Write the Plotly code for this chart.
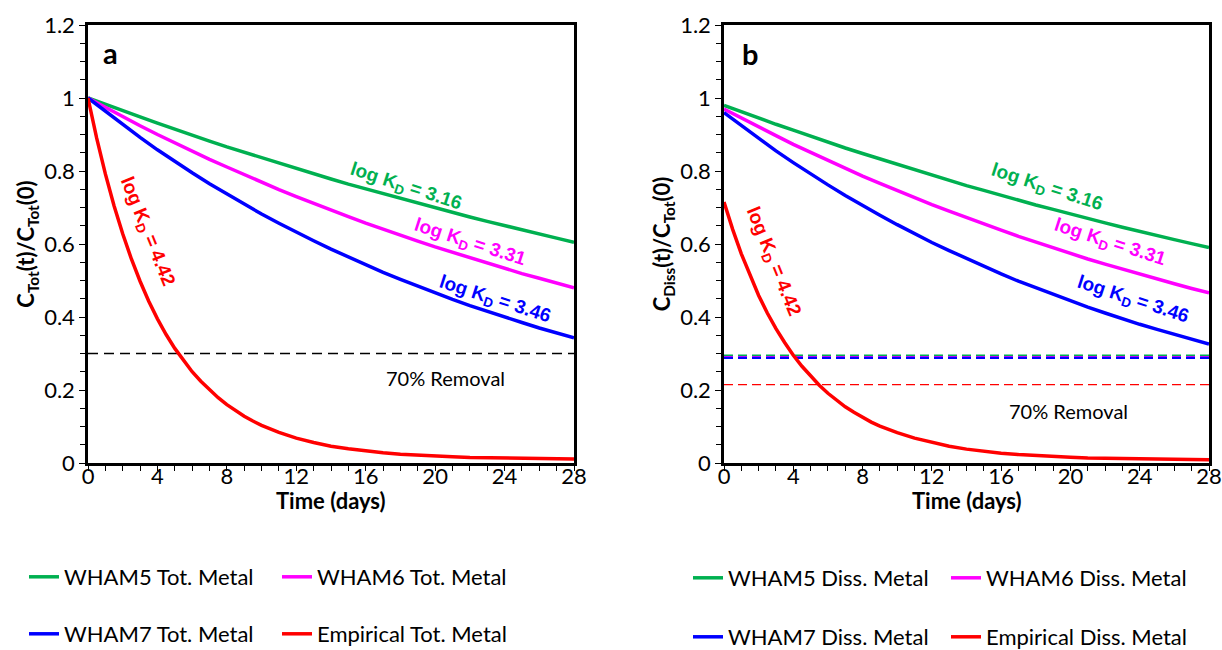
import plotly.graph_objects as go

# Time axis (days) for the WHAM model curves
days = list(range(29))

# Finer time grid for the fast-decaying empirical curves
emp_days = [0, 0.5, 1, 1.5, 2, 2.5, 3, 3.5, 4, 4.5, 5, 5.5, 6, 6.5, 7, 7.5, 8, 8.5,
            9, 9.5, 10, 11, 12, 13, 14, 15, 16, 17, 18, 19, 20, 21, 22, 23, 24,
            25, 26, 27, 28]

# Panel a: total metal, C_Tot(t)/C_Tot(0)
tot_wham5 = [1.000, 0.982, 0.965, 0.948, 0.931, 0.914, 0.898, 0.882, 0.866, 0.851,
             0.836, 0.821, 0.806, 0.792, 0.778, 0.764, 0.751, 0.737, 0.724, 0.711,
             0.699, 0.686, 0.674, 0.662, 0.650, 0.639, 0.628, 0.616, 0.605]
tot_wham6 = [1.000, 0.974, 0.949, 0.924, 0.900, 0.877, 0.854, 0.832, 0.811, 0.790,
             0.769, 0.749, 0.730, 0.711, 0.693, 0.675, 0.657, 0.640, 0.624, 0.608,
             0.592, 0.577, 0.562, 0.547, 0.533, 0.519, 0.506, 0.493, 0.480]
tot_wham7 = [1.000, 0.963, 0.927, 0.892, 0.858, 0.826, 0.795, 0.765, 0.737, 0.709,
             0.682, 0.657, 0.632, 0.609, 0.586, 0.564, 0.543, 0.522, 0.503, 0.484,
             0.466, 0.448, 0.431, 0.415, 0.400, 0.385, 0.370, 0.356, 0.343]
tot_emp = [1.000, 0.890, 0.792, 0.705, 0.628, 0.559, 0.498, 0.443, 0.395, 0.352,
           0.314, 0.280, 0.250, 0.224, 0.200, 0.179, 0.160, 0.143, 0.128, 0.115,
           0.103, 0.084, 0.068, 0.056, 0.046, 0.039, 0.033, 0.028, 0.024, 0.021,
           0.019, 0.017, 0.015, 0.014, 0.013, 0.012, 0.012, 0.011, 0.011]

# Panel b: dissolved metal, C_Diss(t)/C_Tot(0)
diss_wham5 = [0.980, 0.962, 0.945, 0.928, 0.912, 0.895, 0.879, 0.863, 0.848, 0.833,
              0.818, 0.803, 0.789, 0.774, 0.760, 0.747, 0.733, 0.720, 0.707, 0.695,
              0.682, 0.670, 0.658, 0.646, 0.634, 0.623, 0.612, 0.601, 0.590]
diss_wham6 = [0.970, 0.945, 0.920, 0.897, 0.873, 0.851, 0.829, 0.807, 0.786, 0.766,
              0.746, 0.727, 0.708, 0.690, 0.672, 0.655, 0.638, 0.621, 0.605, 0.589,
              0.574, 0.559, 0.545, 0.531, 0.517, 0.504, 0.491, 0.478, 0.466]
diss_wham7 = [0.960, 0.924, 0.889, 0.855, 0.823, 0.792, 0.762, 0.733, 0.705, 0.679,
              0.653, 0.628, 0.604, 0.582, 0.560, 0.538, 0.518, 0.498, 0.480, 0.461,
              0.444, 0.427, 0.411, 0.395, 0.380, 0.366, 0.352, 0.339, 0.326]
diss_emp = [0.715, 0.640, 0.573, 0.513, 0.459, 0.411, 0.368, 0.330, 0.295, 0.265,
            0.238, 0.213, 0.191, 0.172, 0.154, 0.139, 0.125, 0.112, 0.101, 0.091,
            0.083, 0.068, 0.056, 0.046, 0.038, 0.032, 0.027, 0.023, 0.020, 0.018,
            0.016, 0.014, 0.013, 0.012, 0.011, 0.010, 0.010, 0.009, 0.009]

# 70% removal thresholds
tot_threshold = 0.30
diss_thresholds = {"WHAM5": 0.294, "WHAM6": 0.290, "WHAM7": 0.288, "Empirical": 0.2145}

colors = {"WHAM5": "#00B050", "WHAM6": "#FF00FF", "WHAM7": "#0000FF", "Empirical": "#FF0000"}
log_kd = {"WHAM5": "3.16", "WHAM6": "3.31", "WHAM7": "3.46", "Empirical": "4.42"}

TICK_FONT = dict(family="Lato", size=22, color="#000000")
NOTE_FONT = dict(family="Lato", size=20, color="#000000")
TITLE_FONT = dict(family="Lato", size=22, color="#000000")
LEGEND_FONT = dict(family="Lato", size=22, color="#000000")
LABEL_FONT = "Liberation Sans"
LW = 3.5

fig = go.Figure()

x_span = [0, 28]

# Threshold lines
fig.add_trace(go.Scatter(x=x_span, y=[tot_threshold] * 2, mode="lines",
                         line=dict(color="#000000", width=1.3, dash="10px,6px"),
                         showlegend=False, hoverinfo="skip", xaxis="x", yaxis="y"))
for key in ["Empirical", "WHAM5", "WHAM6", "WHAM7"]:
    fig.add_trace(go.Scatter(x=x_span, y=[diss_thresholds[key]] * 2, mode="lines",
                             line=dict(color=colors[key],
                                       width=1.3 if key == "Empirical" else 2.2,
                                       dash="9px,5px"),
                             showlegend=False, hoverinfo="skip", xaxis="x2", yaxis="y2"))

# Total metal curves (panel a)
tot_series = [("WHAM5", days, tot_wham5, "legend"),
              ("WHAM6", days, tot_wham6, "legend"),
              ("WHAM7", days, tot_wham7, "legend2"),
              ("Empirical", emp_days, tot_emp, "legend2")]
for key, xs, ys, lg in tot_series:
    fig.add_trace(go.Scatter(x=xs, y=ys, mode="lines", name=f"{key} Tot. Metal",
                             line=dict(color=colors[key], width=LW),
                             legend=lg, xaxis="x", yaxis="y"))

# Dissolved metal curves (panel b)
diss_series = [("WHAM5", days, diss_wham5, "legend3"),
               ("WHAM6", days, diss_wham6, "legend3"),
               ("WHAM7", days, diss_wham7, "legend4"),
               ("Empirical", emp_days, diss_emp, "legend4")]
for key, xs, ys, lg in diss_series:
    fig.add_trace(go.Scatter(x=xs, y=ys, mode="lines", name=f"{key} Diss. Metal",
                             line=dict(color=colors[key], width=LW),
                             legend=lg, xaxis="x2", yaxis="y2"))

# Page geometry: plot region spans x 88..1209 px and y 25..463 px
W, H = 1222, 650
ML, MR, MT, MB = 88, 13, 25, 187
PW = W - ML - MR
PH = H - MT - MB


def px_x(px):
    return (px - ML) / PW


def px_y(py):
    return (H - MB - py) / PH


# Curve labels: (series, x, y, angle) per panel
label_pos_a = [("WHAM5", 18.3, 0.756, 18), ("WHAM6", 22.0, 0.603, 18),
               ("WHAM7", 23.45, 0.447, 18), ("Empirical", 3.4, 0.633, 68)]
label_pos_b = [("WHAM5", 18.65, 0.753, 18), ("WHAM6", 22.3, 0.603, 18),
               ("WHAM7", 23.6, 0.447, 18), ("Empirical", 2.83, 0.551, 68)]

annotations = []
for (positions, xr, yr) in [(label_pos_a, "x", "y"), (label_pos_b, "x2", "y2")]:
    for key, lx, ly, ang in positions:
        annotations.append(dict(
            x=lx, y=ly, xref=xr, yref=yr, showarrow=False, textangle=ang,
            text=f"<b>log K<sub>D</sub> = {log_kd[key]}</b>",
            font=dict(family=LABEL_FONT, size=19, color=colors[key])))

annotations += [
    dict(x=20.6, y=0.233, xref="x", yref="y", showarrow=False, text="70% Removal",
         font=NOTE_FONT),
    dict(x=19.9, y=0.142, xref="x2", yref="y2", showarrow=False, text="70% Removal",
         font=NOTE_FONT),
    dict(x=1.27, y=1.126, xref="x", yref="y", showarrow=False, text="<b>a</b>",
         font=dict(family="Lato", size=29, color="#000000")),
    dict(x=1.5, y=1.123, xref="x2", yref="y2", showarrow=False, text="<b>b</b>",
         font=dict(family="Lato", size=29, color="#000000")),
    # x-axis titles under each panel
    dict(x=14, y=px_y(500), xref="x", yref="paper", xanchor="center", yanchor="middle",
         showarrow=False, text="<b>Time (days)</b>", font=TITLE_FONT),
    dict(x=14, y=px_y(500), xref="x2", yref="paper", xanchor="center", yanchor="middle",
         showarrow=False, text="<b>Time (days)</b>", font=TITLE_FONT),
]


def xaxis(domain, anchor):
    return dict(domain=domain, anchor=anchor, range=[0, 28], dtick=4, tick0=0,
                showline=True, mirror=True, linecolor="#000000", linewidth=2.5,
                ticks="outside", ticklen=5, tickwidth=1.3, tickcolor="#000000",
                minor=dict(dtick=1, ticks="outside", ticklen=5, tickwidth=1.3,
                           tickcolor="#000000", showgrid=False),
                showgrid=False, zeroline=False, tickfont=TICK_FONT,
                ticklabeloverflow="allow", ticklabelstandoff=-13)


def yaxis(domain, anchor, title):
    return dict(domain=domain, anchor=anchor, range=[0, 1.2], dtick=0.2, tick0=0,
                showline=True, mirror=True, linecolor="#000000", linewidth=2.5,
                ticks="outside", ticklen=6, tickwidth=1.3, tickcolor="#000000",
                minor=dict(dtick=0.05, ticks="outside", ticklen=5, tickwidth=1.3,
                           tickcolor="#000000", showgrid=False),
                showgrid=False, zeroline=False, tickfont=TICK_FONT,
                ticklabeloverflow="allow",
                title=dict(text=title, standoff=4, font=TITLE_FONT))


def legend_row(px, py, width):
    return dict(orientation="h", x=px_x(px), y=px_y(py), xanchor="left", yanchor="middle",
                xref="paper", yref="paper", entrywidth=width, entrywidthmode="pixels",
                font=LEGEND_FONT, bgcolor="rgba(0,0,0,0)", itemwidth=30,
                tracegroupgap=0)


fig.update_layout(
    width=W, height=H, autosize=False,
    margin=dict(l=ML, r=MR, t=MT, b=MB, autoexpand=False),
    paper_bgcolor="#FFFFFF", plot_bgcolor="#FFFFFF",
    xaxis=xaxis([0, px_x(574)], "y"),
    yaxis=yaxis([0, 1], "x", "<b>C<sub>Tot</sub>(t)/C<sub>Tot</sub>(0)</b>"),
    xaxis2=xaxis([px_x(724), 1], "y2"),
    yaxis2=yaxis([0, 1], "x2", "<b>C<sub>Diss</sub>(t)/C<sub>Tot</sub>(0)</b>"),
    legend=legend_row(24, 577, 208),
    legend2=legend_row(24, 634, 208),
    legend3=legend_row(688, 578, 213),
    legend4=legend_row(688, 637, 213),
    annotations=annotations,
    showlegend=True,
)

fig.write_html("out.html")
